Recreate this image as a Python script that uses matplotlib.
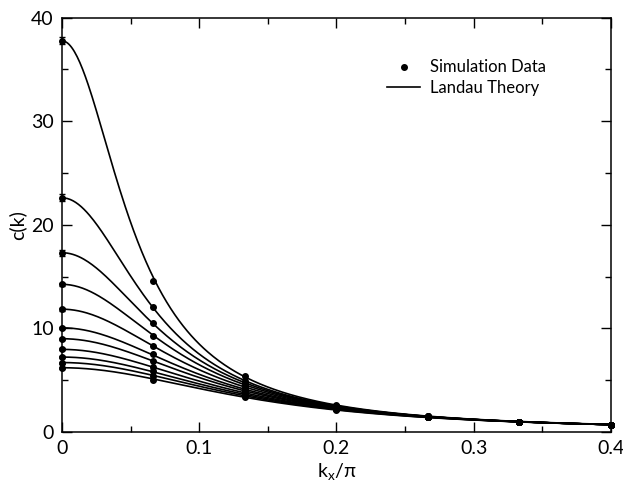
import numpy as np
import matplotlib
matplotlib.use('agg')
import matplotlib.pyplot as plt
from matplotlib.ticker import MultipleLocator

plt.rcParams['font.family'] = ['Lato', 'DejaVu Sans']

# simulation points, kx/pi = 2n/30
k_sim = [0.0, 1/15, 2/15, 3/15, 4/15, 5/15, 6/15]
c_sim = [
    [37.75, 14.6, 5.40, 2.65, 1.51, 0.98, 0.72],
    [22.6, 12.1, 4.96, 2.52, 1.50, 0.99, 0.71],
    [17.3, 10.55, 4.75, 2.49, 1.50, 0.99, 0.71],
    [14.25, 9.25, 4.55, 2.46, 1.49, 0.99, 0.71],
    [11.85, 8.25, 4.33, 2.41, 1.48, 0.99, 0.71],
    [10.05, 7.5, 4.12, 2.36, 1.47, 0.99, 0.71],
    [9.0, 6.85, 3.96, 2.32, 1.46, 0.99, 0.70],
    [7.97, 6.3, 3.77, 2.26, 1.45, 0.98, 0.70],
    [7.23, 5.85, 3.62, 2.22, 1.43, 0.98, 0.70],
    [6.7, 5.45, 3.48, 2.17, 1.41, 0.98, 0.70],
    [6.2, 5.05, 3.35, 2.12, 1.40, 0.97, 0.70],
]
err_k0 = [0.35, 0.35, 0.3, 0.15, 0.15, 0.1, 0.1, 0.1, 0.1, 0.1, 0.1]

# Landau theory: 1/c = 1/c0 + b K^2 + d K^4, K^2 = 2(1 - cos k)
landau_c0 = [37.75, 22.6, 17.3, 14.25, 11.85, 10.05, 9.0, 7.97, 7.23, 6.7, 6.2]
landau_b = [0.93, 0.90, 0.87, 0.85, 0.83, 0.81, 0.80, 0.79, 0.78, 0.78, 0.78]
landau_d = [0.03, 0.064, 0.078, 0.086, 0.093, 0.10, 0.10, 0.10, 0.10, 0.096, 0.09]

fig = plt.figure(figsize=(6.23, 4.87), dpi=100)
ax = fig.add_axes([0.0995, 0.113, 0.881, 0.851])

kk = np.linspace(0, 0.4, 400)
K2 = 2 * (1 - np.cos(np.pi * kk))
for i in range(len(landau_c0)):
    c = 1.0 / (1.0 / landau_c0[i] + landau_b[i] * K2 + landau_d[i] * K2**2)
    ax.plot(kk, c, color='black', lw=1.2, label='Landau Theory' if i == 0 else None)

for i in range(len(c_sim)):
    ax.plot(k_sim, c_sim[i], 'o', color='black', ms=4, clip_on=False, zorder=5,
            label='Simulation Data' if i == 0 else None)
    ax.errorbar([0.0], [c_sim[i][0]], yerr=[err_k0[i]], fmt='none', ecolor='black',
                elinewidth=0.8, capsize=2.5, clip_on=False, zorder=5)

ax.set_xlim(0, 0.4)
ax.set_ylim(0, 40)
ax.xaxis.set_minor_locator(MultipleLocator(0.05))
ax.yaxis.set_major_locator(MultipleLocator(10))
ax.yaxis.set_minor_locator(MultipleLocator(5))
ax.set_xticks([0, 0.1, 0.2, 0.3, 0.4])
ax.set_xticklabels(['0', '0.1', '0.2', '0.3', '0.4'])
ax.tick_params(which='both', direction='in', top=True, right=True, labelsize=14, width=1)
ax.tick_params(which='major', length=7, pad=6)
ax.tick_params(which='minor', length=4)
for s in ax.spines.values():
    s.set_linewidth(1.1)

ax.set_xlabel(r'k$_\mathregular{x}$/$\mathregular{\pi}$', fontsize=14, labelpad=3)
ax.set_ylabel('c(k)', fontsize=14, labelpad=3)

h, l = ax.get_legend_handles_labels()
ax.legend(h[::-1], l[::-1], loc='upper right', bbox_to_anchor=(0.91, 0.935), frameon=False,
          fontsize=12, handlelength=2.0, handletextpad=0.6, labelspacing=0.25)

plt.savefig('out.png', dpi=100)
